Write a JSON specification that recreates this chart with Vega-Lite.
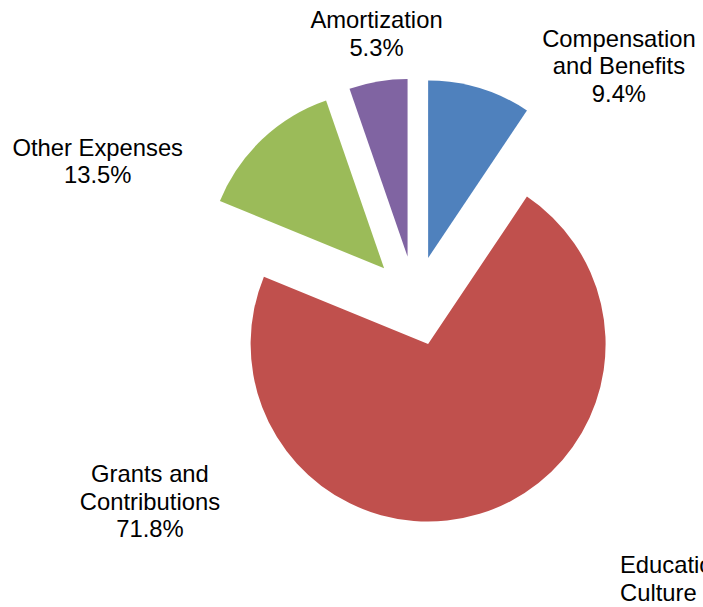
{
  "$schema": "https://vega.github.io/schema/vega-lite/v6.json",
  "width": 576,
  "height": 602,
  "autosize": {"type": "none"},
  "padding": {"left": 127, "top": 0, "right": 0, "bottom": 5},
  "background": "#ffffff",
  "config": {"view": {"stroke": null}, "font": "Liberation Sans"},
  "title": {
    "text": ["Education and", "Culture"],
    "orient": "bottom",
    "anchor": "end",
    "frame": "group",
    "align": "left",
    "baseline": "alphabetic",
    "dx": -83,
    "offset": -29,
    "fontSize": 23.8,
    "fontWeight": "normal",
    "font": "Liberation Sans",
    "color": "#000000",
    "lineHeight": 27.5
  },
  "data": {
    "values": [
      {"category": "Compensation and Benefits", "value": 9.4, "idx": 1, "label": "Compensation\nand Benefits\n9.4%"},
      {"category": "Grants and Contributions", "value": 71.8, "idx": 2, "label": "Grants and\nContributions\n71.8%"},
      {"category": "Other Expenses", "value": 13.5, "idx": 3, "label": "Other Expenses\n13.5%"},
      {"category": "Amortization", "value": 5.3, "idx": 4, "label": "Amortization\n5.3%"}
    ]
  },
  "transform": [
    {"stack": "value", "groupby": [], "sort": [{"field": "idx", "order": "ascending"}], "as": ["v0", "v1"]}
  ],
  "encoding": {
    "color": {
      "field": "category",
      "type": "nominal",
      "scale": {
        "domain": ["Compensation and Benefits", "Grants and Contributions", "Other Expenses", "Amortization"],
        "range": ["#4F81BD", "#C0504D", "#9BBB59", "#8064A2"]
      },
      "legend": null
    }
  },
  "layer": [
    {
      "transform": [{"filter": "datum.category === 'Compensation and Benefits'"}],
      "mark": {"type": "arc", "radius": 177.5, "xOffset": 13.1, "yOffset": -43.05},
      "encoding": {
        "theta": {"field": "v0", "type": "quantitative", "stack": null, "scale": {"domain": [0, 100]}},
        "theta2": {"field": "v1"}
      }
    },
    {
      "transform": [{"filter": "datum.category === 'Grants and Contributions'"}],
      "mark": {"type": "arc", "radius": 177.5, "xOffset": 13.1, "yOffset": 43.05},
      "encoding": {
        "theta": {"field": "v0", "type": "quantitative", "stack": null},
        "theta2": {"field": "v1"}
      }
    },
    {
      "transform": [{"filter": "datum.category === 'Other Expenses'"}],
      "mark": {"type": "arc", "radius": 177.5, "xOffset": -30.9, "yOffset": -32.7},
      "encoding": {
        "theta": {"field": "v0", "type": "quantitative", "stack": null},
        "theta2": {"field": "v1"}
      }
    },
    {
      "transform": [{"filter": "datum.category === 'Amortization'"}],
      "mark": {"type": "arc", "radius": 177.5, "xOffset": -7.46, "yOffset": -44.4},
      "encoding": {
        "theta": {"field": "v0", "type": "quantitative", "stack": null},
        "theta2": {"field": "v1"}
      }
    },
    {
      "transform": [{"filter": "datum.category === 'Amortization'"}],
      "mark": {"type": "text", "radius": 273, "dx": -38.5, "dy": 0, "align": "center", "baseline": "alphabetic", "lineBreak": "\n", "fontSize": 23.8, "lineHeight": 27.5, "font": "Liberation Sans", "color": "#000000"},
      "encoding": {
        "theta": {"field": "v1", "type": "quantitative", "stack": null},
        "text": {"field": "label", "type": "nominal"},
        "color": {"value": "#000000"}
      }
    },
    {
      "transform": [{"filter": "datum.category === 'Compensation and Benefits'"}],
      "mark": {"type": "text", "radius": 306, "dx": 33.5, "dy": 0, "align": "center", "baseline": "alphabetic", "lineBreak": "\n", "fontSize": 23.8, "lineHeight": 27.5, "font": "Liberation Sans", "color": "#000000"},
      "encoding": {
        "theta": {"field": "v1", "type": "quantitative", "stack": null},
        "text": {"field": "label", "type": "nominal"},
        "color": {"value": "#000000"}
      }
    },
    {
      "transform": [{"filter": "datum.category === 'Other Expenses'"}],
      "mark": {"type": "text", "radius": 343, "dx": 0, "dy": -15, "align": "center", "baseline": "alphabetic", "lineBreak": "\n", "fontSize": 23.8, "lineHeight": 27.5, "font": "Liberation Sans", "color": "#000000"},
      "encoding": {
        "theta": {"field": "v0", "type": "quantitative", "stack": null},
        "text": {"field": "label", "type": "nominal"},
        "color": {"value": "#000000"}
      }
    },
    {
      "transform": [{"filter": "datum.category === 'Grants and Contributions'"}],
      "mark": {"type": "text", "radius": 286.5, "dx": 0, "dy": 290, "align": "center", "baseline": "alphabetic", "lineBreak": "\n", "fontSize": 23.8, "lineHeight": 27.5, "font": "Liberation Sans", "color": "#000000"},
      "encoding": {
        "theta": {"field": "v1", "type": "quantitative", "stack": null},
        "text": {"field": "label", "type": "nominal"},
        "color": {"value": "#000000"}
      }
    }
  ]
}
